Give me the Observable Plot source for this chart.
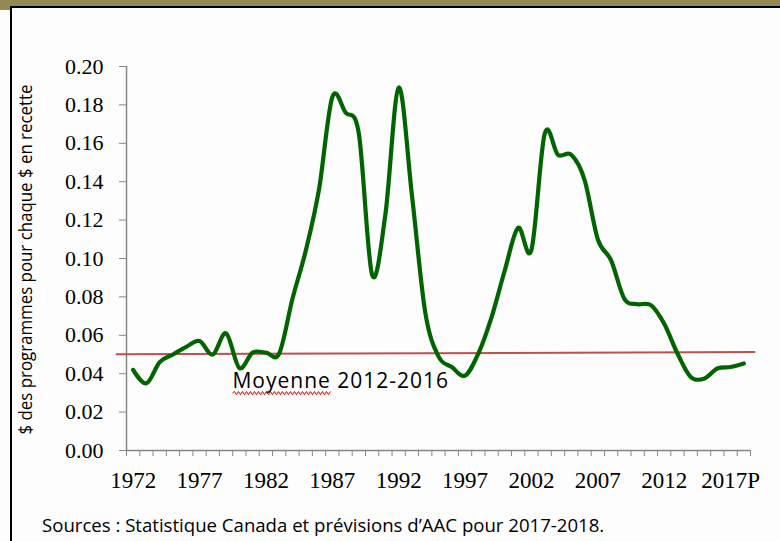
<!DOCTYPE html>
<html>
<head>
<meta charset="utf-8">
<script src="https://cdn.jsdelivr.net/npm/d3@7"></script>
<script src="https://cdn.jsdelivr.net/npm/@observablehq/plot@0.6"></script>
<style>
  html, body { margin: 0; padding: 0; background: #ffffff; }
  #wrap { position: relative; width: 780px; height: 541px; overflow: hidden; background: #fdfdfd; }
  #band { position: absolute; left: 0; top: 0; width: 780px; height: 7px; background: #938953; }
  #tab { position: absolute; left: 0; top: 0; width: 12px; height: 10px; background: #938953; }
  #hline { position: absolute; left: 11px; top: 6px; width: 769px; height: 2px; background: #000; }
  #vline { position: absolute; left: 10px; top: 6px; width: 2px; height: 535px; background: #000; }
  #chart { position: absolute; left: 0; top: 0; }
  #caption { position: absolute; left: 42px; top: 512px; font-family: "Open Sans", sans-serif; font-size: 18.6px; color: #000; white-space: nowrap; }
</style>
</head>
<body>
<div id="wrap">
  <div id="band"></div>
  <div id="tab"></div>
  <div id="hline"></div>
  <div id="vline"></div>
  <div id="chart"></div>
  <div id="caption"></div>
</div>
<script>
// ---- data ----
const years = [1972,1973,1974,1975,1976,1977,1978,1979,1980,1981,1982,1983,1984,1985,1986,1987,1988,1989,1990,1991,1992,1993,1994,1995,1996,1997,1998,1999,2000,2001,2002,2003,2004,2005,2006,2007,2008,2009,2010,2011,2012,2013,2014,2015,2016,2017,2018];
const values = [0.042,0.035,0.046,0.050,0.054,0.057,0.050,0.061,0.043,0.051,0.051,0.0505,0.079,0.104,0.136,0.184,0.176,0.165,0.0915,0.123,0.189,0.133,0.072,0.049,0.0435,0.039,0.0505,0.0695,0.094,0.116,0.1045,0.165,0.154,0.154,0.141,0.110,0.099,0.079,0.0762,0.0757,0.066,0.0505,0.0383,0.0374,0.0427,0.0435,0.0453];
const tickYears = [1972,1977,1982,1987,1992,1997,2002,2007,2012,2017];
const tickLabels = ["1972","1977","1982","1987","1992","1997","2002","2007","2012","2017P"];
const yTicks = [0,0.02,0.04,0.06,0.08,0.10,0.12,0.14,0.16,0.18,0.20];
const avgX = [1970.75, 2018.8];
const avgY = [0.0501, 0.0513];
const avgLabelWord = "Moyenne";
const avgLabelRest = " 2012-2016";
const yTitle = "$ des programmes pour chaque $ en recette";
const captionText = "Sources : Statistique Canada et prévisions d\u2019AAC pour 2017-2018.";

// ---- tables ----
const series = years.map((year, i) => ({year, value: values[i]}));
const avgLine = avgX.map((x, i) => ({x, y: avgY[i]}));
const boundaries = years.map(y => y - 0.5).concat([years[years.length - 1] + 0.5]);
const x0 = years[0] - 0.5, x1 = years[years.length - 1] + 0.5;

const grey = "#868686";
const chart = Plot.plot({
  width: 780,
  height: 500,
  marginLeft: 126,
  marginRight: 30,
  marginTop: 66,
  marginBottom: 50,
  style: {background: "transparent", fontFamily: "'Liberation Serif', serif", color: "#000"},
  x: {type: "linear", domain: [x0, x1]},
  y: {domain: [0, 0.2]},
  marks: [
    Plot.axisY({ticks: yTicks, tickSize: 7, tickPadding: 16, tickFormat: d => d.toFixed(2), fontSize: 22, stroke: grey, fill: "#000", label: null}),
    Plot.axisX({ticks: boundaries, tickSize: 6, tickFormat: () => "", stroke: grey, label: null}),
    Plot.axisX({ticks: tickYears, tickSize: 0, tickPadding: 21, tickFormat: d => tickLabels[tickYears.indexOf(d)], fontSize: 23, fill: "#000", label: null}),
    Plot.ruleY([0], {x1: x0, x2: x1, stroke: grey, strokeWidth: 1.5}),
    Plot.ruleX([x0], {y1: 0, y2: 0.2, stroke: grey, strokeWidth: 1.5}),
    Plot.line(avgLine, {x: "x", y: "y", stroke: "#c0504d", strokeWidth: 2, clip: false}),
    Plot.line(series, {x: "year", y: "value", stroke: "#006400", strokeWidth: 4.2, curve: "cardinal"}),
    Plot.text([avgLabelWord + avgLabelRest], {x: 1979.48, y: 0.036, text: d => d, textAnchor: "start", lineAnchor: "middle", fontSize: 21, fontFamily: "'Open Sans', sans-serif", fill: "#000"}),
    Plot.text([yTitle], {frameAnchor: "bottom-left", dx: -95, dy: -16, rotate: -90, textAnchor: "start", text: d => d, fontSize: 18, fontFamily: "'Open Sans', sans-serif", fill: "#000"})
  ]
});
document.getElementById("chart").appendChild(chart);

// average label: spacing + spell-check style squiggle under the first word
d3.select(chart).selectAll("text").filter(function () { return this.textContent === avgLabelWord + avgLabelRest; })
  .each(function () {
    const el = this;
    el.style.letterSpacing = "1px";
    el.style.whiteSpace = "pre";
    const start = el.getStartPositionOfChar(0);
    const end = el.getEndPositionOfChar(avgLabelWord.length - 1);
    const base = start.y + 5;
    let d = "M" + start.x + "," + base;
    let up = true;
    for (let px = start.x + 2; px <= end.x; px += 2) {
      d += "L" + px + "," + (base + (up ? -1.6 : 1.6));
      up = !up;
    }
    const ctm = el.getAttribute("transform");
    const p = d3.select(el.parentNode).append("path")
      .attr("d", d).attr("fill", "none").attr("stroke", "#e00000").attr("stroke-width", 1);
    if (ctm) p.attr("transform", ctm);
  });
// condense the y title to the reference's length
d3.select(chart).selectAll("text").filter(function () { return this.textContent === yTitle; })
  .attr("textLength", 350).attr("lengthAdjust", "spacingAndGlyphs");

document.getElementById("caption").textContent = captionText;
</script>
</body>
</html>
